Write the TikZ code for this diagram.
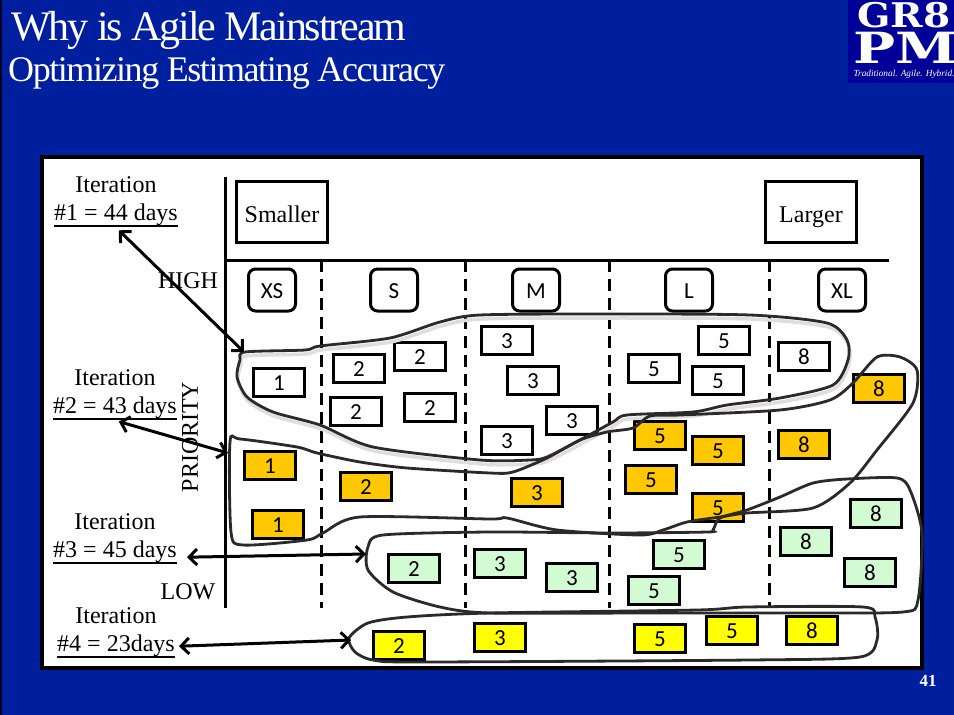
\documentclass[tikz,border=0pt]{standalone}
\usepackage{fontspec}
\usepackage{tikz}
\usetikzlibrary{arrows.meta, positioning}
\setmainfont{Liberation Serif}
\newfontfamily\cardfont{Carlito}
\newfontfamily\logofont{DejaVu Serif}
\definecolor{slideblue}{HTML}{001F9F}
\definecolor{logoblue}{HTML}{000099}
\definecolor{cardorange}{HTML}{FFC800}
\definecolor{cardgreen}{HTML}{D3FBD3}
\definecolor{cardyellow}{HTML}{FFFF00}
\newcommand{\iterunder}[1]{\vtop{\hbox{#1}\kern 0pt\hrule height 2pt}}

\begin{document}
\begin{tikzpicture}[
    x=1pt, y=-1pt,
    serifbox/.style={
        rectangle, draw, line width=3pt,
        minimum width=91pt, minimum height=61pt, text height=25pt, text depth=5pt,
        font=\fontsize{24}{28}\selectfont, inner sep=0pt
    },
    sizechip/.style={
        rectangle, draw, rounded corners=7pt, line width=3pt,
        minimum width=47pt, minimum height=42pt, text height=17.5pt, text depth=0pt,
        font=\cardfont\fontsize{23}{26}\selectfont, inner sep=0pt
    },
    card/.style={
        rectangle, draw, line width=3pt,
        minimum width=51pt, minimum height=28pt, text height=17.5pt, text depth=0pt,
        font=\cardfont\fontsize{23}{26}\selectfont, inner sep=0pt
    },
    whitecard/.style={card, fill=white},
    orangecard/.style={card, fill=cardorange},
    greencard/.style={card, fill=cardgreen},
    yellowcard/.style={card, fill=cardyellow},
    iterlabel/.style={font=\fontsize{24}{28}\selectfont, inner sep=0pt},
    axislabel/.style={font=\fontsize{24}{28}\selectfont, inner sep=0pt},
    axisline/.style={line width=3pt},
    splitline/.style={line width=3pt, dash pattern=on 12pt off 7pt},
    blob/.style={line width=2.8pt, color=black!95!cyan},
    blobshade/.style={line width=3.5pt, color=black!13},
    iterarrow/.style={{Straight Barb[length=8pt,width=16pt]}-{Straight Barb[length=8pt,width=16pt]}, line width=3pt}
]

% Slide background and panel
\path[use as bounding box, fill=slideblue] (0,0) rectangle (954,715);
\fill[black!85!blue] (0,0) rectangle (2,715);
\draw[line width=3.5pt, fill=white] (42,157) rectangle (922,668);

% Title
\node[anchor=west, text=white, inner sep=0pt] (titleone) at (11,30)
    {\fontspec{Liberation Serif}[LetterSpace=-5]\fontsize{42}{46}\selectfont Why is Agile Mainstream};
\node[anchor=west, text=white, inner sep=0pt] (titletwo) at (8,73)
    {\fontspec{Liberation Serif}[LetterSpace=-4]\fontsize{36}{40}\selectfont Optimizing Estimating Accuracy};

% Logo
\fill[logoblue] (848,0) rectangle (954,83);
\node[text=white, inner sep=0pt] (logotop) at (904,15)
    {\scalebox{1.15}[1]{\logofont\bfseries\fontsize{34}{34}\selectfont GR8}};
\node[text=white, inner sep=0pt, anchor=west] (logomid) at (853,48)
    {\scalebox{1.12}[0.86]{\logofont\bfseries\fontsize{50}{50}\selectfont PM}};
\node[text=white, inner sep=0pt] (logotag) at (904,74)
    {\itshape\fontsize{9.3}{10}\selectfont Traditional. Agile. Hybrid.};

% Page number
\node[text=white, inner sep=0pt] (pagenum) at (928,681) {\bfseries\fontsize{17}{20}\selectfont 41};

% Axes
\coordinate (axistop) at (225,177);
\coordinate (axiscorner) at (225,260);
\coordinate (axisbottom) at (225,608);
\coordinate (axisright) at (889,260);
\draw[axisline] (axistop) -- (axisbottom);
\draw[axisline] (axiscorner) -- (axisright);

% Column splits
\coordinate (splitatop) at (321,260);
\coordinate (splitabot) at (321,608);
\coordinate (splitbtop) at (465,260);
\coordinate (splitbbot) at (465,608);
\coordinate (splitctop) at (609,260);
\coordinate (splitcbot) at (609,608);
\coordinate (splitdtop) at (769,260);
\coordinate (splitdbot) at (769,608);
\draw[splitline] (splitatop) -- (splitabot);
\draw[splitline] (splitbtop) -- (splitbbot);
\draw[splitline] (splitctop) -- (splitcbot);
\draw[splitline] (splitdtop) -- (splitdbot);

% Scale ends
\node[serifbox] (smaller) at (282,212) {Smaller};
\node[serifbox] (larger)  at (811,212) {Larger};

% Size chips
\node[sizechip] (xs) at (272,290) {XS};
\node[sizechip, right=72pt of xs] (s)  {S};
\node[sizechip, right=92pt of s]  (m)  {M};
\node[sizechip, right=103pt of m] (l)  {L};
\node[sizechip, right=103pt of l] (xl) {XL};

% Axis labels
\node[axislabel] (high) at (188,281) {HIGH};
\node[axislabel] (low)  at (188,592) {LOW};
\node[axislabel, rotate=90] (priority) at (190,437) {PRIORITY};

% Iteration 1 cards
\node[whitecard] (wone)    at (279,382) {1};
\node[whitecard] (wtwoa)   at (359,368) {2};
\node[whitecard] (wtwob)   at (420,356) {2};
\node[whitecard] (wtwoc)   at (356,411) {2};
\node[whitecard] (wtwod)   at (430,407) {2};
\node[whitecard] (wthreea) at (507,340) {3};
\node[whitecard] (wthreeb) at (533,380) {3};
\node[whitecard] (wthreec) at (572,420) {3};
\node[whitecard] (wthreed) at (507,440) {3};
\node[whitecard] (wfivea)  at (654,368) {5};
\node[whitecard] (wfiveb)  at (724,340) {5};
\node[whitecard] (wfivec)  at (718,380) {5};
\node[whitecard] (weight)  at (804,356) {8};

% Iteration 2 cards
\node[orangecard] (oonea)  at (270,465) {1};
\node[orangecard] (ooneb)  at (278,524) {1};
\node[orangecard] (otwo)   at (366,486) {2};
\node[orangecard] (othree) at (537,492) {3};
\node[orangecard] (ofivea) at (660,435) {5};
\node[orangecard] (ofiveb) at (718,450) {5};
\node[orangecard] (ofivec) at (651,479) {5};
\node[orangecard] (ofived) at (718,507) {5};
\node[orangecard] (oeighta) at (804,444) {8};
\node[orangecard] (oeightb) at (879,388) {8};

% Iteration 3 cards
\node[greencard] (gtwo)    at (414,568) {2};
\node[greencard] (gthreea) at (500,563) {3};
\node[greencard] (gthreeb) at (572,577) {3};
\node[greencard] (gfivea)  at (679,554) {5};
\node[greencard] (gfiveb)  at (654,590) {5};
\node[greencard] (geighta) at (876,513) {8};
\node[greencard] (geightb) at (806,541) {8};
\node[greencard] (geightc) at (870,572) {8};

% Iteration 4 cards
\node[yellowcard] (ytwo)   at (399,645) {2};
\node[yellowcard] (ythree) at (500,637) {3};
\node[yellowcard] (yfivea) at (660,638) {5};
\node[yellowcard] (yfiveb) at (732,630) {5};
\node[yellowcard] (yeight) at (812,630) {8};

% Freehand outlines
\draw[blobshade, xshift=1pt, yshift=-4pt] plot[smooth cycle, tension=0.45] coordinates {
    (245,352) (305,350) (320,346) (390,338) (440,322) (480,315) (600,314) (750,315)
    (827,323) (847,340) (848,360) (833,385) (780,398) (727,405) (693,412) (627,415)
    (613,422) (580,440) (547,457) (530,460) (480,460) (373,447) (320,425) (273,412)
    (247,397) (237,377) (240,360)};
\draw[blob] plot[smooth cycle, tension=0.45] coordinates {
    (245,352) (305,350) (320,346) (390,338) (440,322) (480,315) (600,314) (750,315)
    (827,323) (847,340) (848,360) (833,385) (780,398) (727,405) (693,412) (627,415)
    (613,422) (580,440) (547,457) (530,460) (480,460) (373,447) (320,425) (273,412)
    (247,397) (237,377) (240,360)};
\draw[blob] plot[smooth cycle, tension=0.45] coordinates {
    (230,442) (240,439) (297,447) (317,453) (360,462) (407,468) (490,473) (513,472)
    (547,458) (580,440) (607,432) (633,428) (650,416) (680,415) (780,410) (830,400)
    (853,383) (877,357) (900,357) (917,370) (913,403) (877,450) (850,483) (813,508)
    (747,513) (720,517) (687,522) (663,530) (640,535) (557,530) (507,518) (490,519)
    (360,517) (323,533) (307,540) (243,545) (231,532)};
\draw[blob] plot[smooth cycle, tension=0.45] coordinates {
    (383,535) (368,547) (368,570) (393,592) (440,607) (490,613) (647,613) (800,613)
    (903,612) (918,600) (922,533) (910,490) (897,478) (847,479) (813,483) (780,497)
    (747,510) (720,518) (713,530) (707,532) (613,533) (490,532)};
\draw[blob] plot[smooth cycle, tension=0.45] coordinates {
    (349,638) (368,623) (407,617) (490,613) (697,610) (747,607) (863,607) (875,617)
    (877,640) (860,657) (750,660) (420,662) (373,660) (355,652)};

% Iteration labels
\node[iterlabel] (iterone) at (116,185) {Iteration};
\node[iterlabel, below=10pt of iterone] (iteronedays) {\iterunder{\#1 = 44 days}};
\node[iterlabel] (itertwo) at (115,378) {Iteration};
\node[iterlabel, below=10pt of itertwo] (itertwodays) {\iterunder{\#2 = 43 days}};
\node[iterlabel] (iterthree) at (115,522) {Iteration};
\node[iterlabel, below=10pt of iterthree] (iterthreedays) {\iterunder{\#3 = 45 days}};
\node[iterlabel] (iterfour) at (116,616) {Iteration};
\node[iterlabel, below=10pt of iterfour] (iterfourdays) {\iterunder{\#4 = 23days}};

% Iteration arrows
\coordinate (blobonetip) at (244,352);
\coordinate (blobtwotip) at (228,453);
\coordinate (blobthreetip) at (366,554);
\coordinate (blobfourtip) at (351,640);
\draw[iterarrow, shorten <=4pt] (iteronedays.south) -- (blobonetip);
\draw[iterarrow, shorten <=4pt] (itertwodays.south) -- (blobtwotip);
\draw[iterarrow, shorten <=10pt] ([yshift=-5pt]iterthreedays.east) -- (blobthreetip);
\draw[iterarrow, shorten <=4pt] (iterfourdays.east) -- (blobfourtip);

\end{tikzpicture}
\end{document}
